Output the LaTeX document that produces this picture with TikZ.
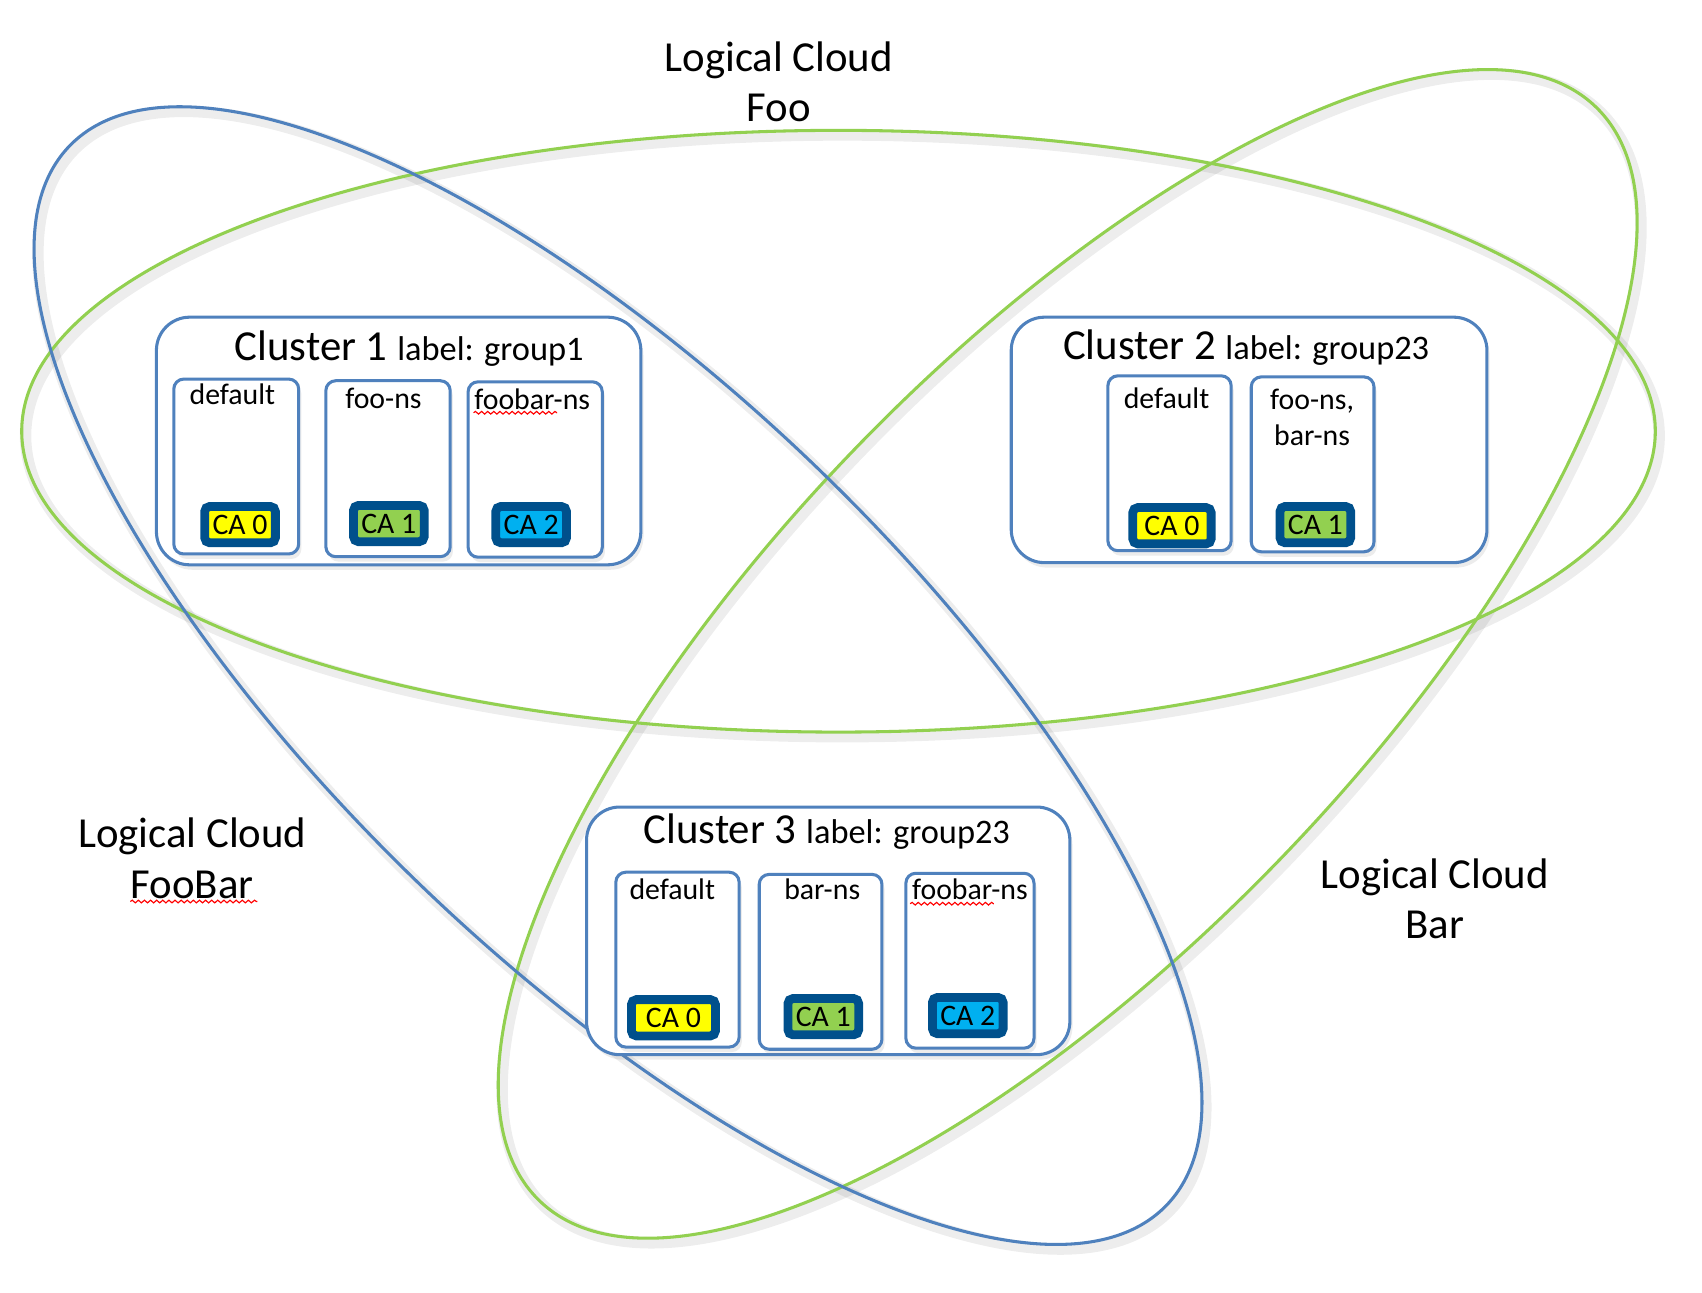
\documentclass[tikz,border=0pt]{standalone}
\usepackage{fontspec}
\setmainfont{Carlito}
\usepackage{tikz}
\usetikzlibrary{shadows,decorations.pathmorphing}

\definecolor{cloudgreen}{HTML}{92D050}
\definecolor{cloudblue}{HTML}{4F81BD}
\definecolor{cadark}{HTML}{00508C}
\definecolor{cayellow}{HTML}{FFFF00}
\definecolor{cagreen}{HTML}{92D050}
\definecolor{cacyan}{HTML}{00B0F0}

\newcommand\bigf{\fontsize{11.2pt}{13.2pt}\selectfont}
\newcommand\midf{\fontsize{9pt}{11pt}\selectfont}
\newcommand\smallf{\fontsize{7.8pt}{9.4pt}\selectfont}

\begin{document}
\begin{tikzpicture}[x=0.01cm,y=-0.01cm,
    cloud/.style={line width=0.8pt},
    cloudshadow/.style={black,opacity=0.07,line width=3pt},
    boxshadow/.style={drop shadow={opacity=0.15,shadow xshift=0.7pt,shadow yshift=-1.3pt}},
    cluster/.style={draw=cloudblue,line width=0.8pt,fill=white,rounded corners=8.7pt,boxshadow},
    nsbox/.style={draw=cloudblue,line width=0.8pt,fill=white,rounded corners=2.6pt,boxshadow},
    nslabel/.style={anchor=base,align=center,font=\smallf,inner sep=0pt},
    title/.style={anchor=base west,inner sep=0pt,font=\bigf},
    cloudlabel/.style={anchor=base,align=center,font=\bigf,inner sep=0pt},
    badge/.style={draw=cadark,line width=2.3pt,rounded corners=1.3pt,minimum width=18.5pt,
        minimum height=9.5pt,inner sep=0pt,font=\smallf},
    squiggle/.style={red,line width=0.3pt,decorate,
        decoration={snake,amplitude=0.35pt,segment length=1.6pt}}]
    \useasboundingbox (0,0) rectangle (1567,1190);
    % shadows of the clouds
    \draw[cloudshadow,xshift=1pt,yshift=-1.2pt] (772,397) ellipse [x radius=752,y radius=277];
    \draw[cloudshadow,xshift=1pt,yshift=-1.2pt,rotate around={46:(983,602)}] (983,602) ellipse [x radius=700,y radius=272];
    \draw[cloudshadow,xshift=1pt,yshift=-1.2pt,rotate around={-44:(569,622)}] (569,622) ellipse [x radius=702,y radius=265];
    % logical clouds
    \draw[cloud,draw=cloudgreen] (772,397) ellipse [x radius=752,y radius=277];
    \draw[cloud,draw=cloudgreen,rotate around={46:(983,602)}] (983,602) ellipse [x radius=700,y radius=272];
    \draw[cloud,draw=cloudblue,rotate around={-44:(569,622)}] (569,622) ellipse [x radius=702,y radius=265];
    % base of a two line label is its last line
    \node[cloudlabel] (lfoo) at (717,112) {Logical Cloud\\Foo};
    \node[cloudlabel] (lfoobar) at (177,827) {Logical Cloud\\FooBar};
    \node[cloudlabel] (lbar) at (1321,864) {Logical Cloud\\Bar};
    \draw[squiggle] (120,830) -- (237,830);
    % cluster 1
    \draw[cluster] (144,292) rectangle (590,520);
    \node[title] (t1) at (215.5,331.5) {Cluster 1 {\midf label: group1}};
    \draw[nsbox] (160,349) rectangle (275,510);
    \draw[nsbox] (300,350.5) rectangle (414.5,512.5);
    \draw[nsbox] (431,351.5) rectangle (554.5,513);
    \node[nslabel] (n11) at (214,372) {default};
    \node[nslabel] (n12) at (353,376) {foo-ns};
    \node[nslabel] (n13) at (490,377) {foobar-ns};
    \draw[squiggle] (436,380) -- (513,380);
    \node[badge,fill=cayellow] (b11) at (221,483) {CA 0};
    \node[badge,fill=cagreen] (b12) at (358,482) {CA 1};
    \node[badge,fill=cacyan] (b13) at (489,483) {CA 2};
    % cluster 2
    \draw[cluster] (931,292) rectangle (1369,518);
    \node[title] (t2) at (978,330.7) {Cluster 2 {\midf label: group23}};
    \draw[nsbox] (1020,346) rectangle (1133.5,507);
    \draw[nsbox] (1152,347) rectangle (1265,508);
    \node[nslabel] (n21) at (1074,376.5) {default};
    \node[nslabel] (n22) at (1208,410) {foo-ns,\\bar-ns};
    \node[badge,fill=cayellow,minimum width=20.5pt] (b21) at (1079,484) {CA 0};
    \node[badge,fill=cagreen] (b22) at (1211,483) {CA 1};
    % cluster 3
    \draw[cluster] (540,743) rectangle (985,971);
    \node[title] (t3) at (592,776.5) {Cluster 3 {\midf label: group23}};
    \draw[nsbox] (567,803) rectangle (680.5,964);
    \draw[nsbox] (699,805) rectangle (812,966);
    \draw[nsbox] (834,804) rectangle (952,965);
    \node[nslabel] (n31) at (619,828.5) {default};
    \node[nslabel] (n32) at (757,828.5) {bar-ns};
    \node[nslabel] (n33) at (893,828.5) {foobar-ns};
    \draw[squiggle] (838,832) -- (915,832);
    \node[badge,fill=cayellow,minimum width=22pt] (b31) at (620,937) {CA 0};
    \node[badge,fill=cagreen] (b32) at (758,936) {CA 1};
    \node[badge,fill=cacyan] (b33) at (891,935) {CA 2};
\end{tikzpicture}
\end{document}
